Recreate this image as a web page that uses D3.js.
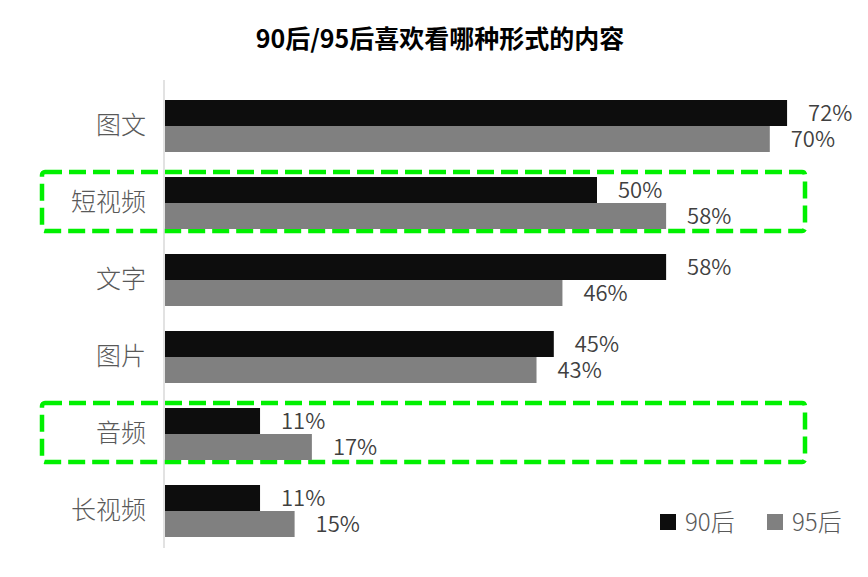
<!DOCTYPE html>
<html>
<head>
<meta charset="utf-8">
<script src="https://cdn.jsdelivr.net/npm/d3@7/dist/d3.min.js"></script>
<style>
  body { margin: 0; background: #fff; }
  svg { display: block; font-family: "Noto Sans CJK SC", "Noto Sans", sans-serif; }
</style>
</head>
<body>
<div id="chart"></div>
<script>
// Data
const categories = ["图文", "短视频", "文字", "图片", "音频", "长视频"];
const series = ["90后", "95后"];
const values90 = [72, 50, 58, 45, 11, 11];
const values95 = [70, 58, 46, 43, 17, 15];
const highlighted = ["短视频", "音频"];
const title = "90后/95后喜欢看哪种形式的内容";

const width = 868, height = 577;
const colors = {"90后": "#0d0d0d", "95后": "#808080"};

const svg = d3.select("#chart").append("svg")
    .attr("width", width)
    .attr("height", height);

// Scales
const x = d3.scaleLinear()
    .domain([0, 100])
    .range([165, 1029]);

const y = d3.scaleBand()
    .domain(categories)
    .range([100, 537])
    .paddingInner(25 / 77)
    .paddingOuter(0);

const ySub = d3.scaleBand()
    .domain(series)
    .range([0, y.bandwidth()]);

// Title
svg.append("text")
    .attr("x", 440)
    .attr("y", 48)
    .attr("text-anchor", "middle")
    .style("font-size", "25px")
    .style("font-weight", "bold")
    .attr("fill", "#000")
    .text(title);

// Highlight boxes behind bars
highlighted.forEach(cat => {
    svg.append("rect")
        .attr("x", 42)
        .attr("y", y(cat) - 5)
        .attr("width", 763)
        .attr("height", y.bandwidth() + 7)
        .attr("rx", 3)
        .attr("fill", "none")
        .attr("stroke", "#00f000")
        .attr("stroke-width", 4.5)
        .attr("stroke-dasharray", "17,7");
});

// Category axis (left)
const yAxis = svg.append("g")
    .attr("transform", `translate(${x(0) - 1},0)`)
    .call(d3.axisLeft(y).tickSize(0).tickPadding(18));
yAxis.select(".domain").remove();
yAxis.selectAll("text")
    .style("font-size", "25px")
    .style("font-weight", "300")
    .style("font-family", "'Noto Sans CJK SC', sans-serif")
    .attr("fill", "#595959");

svg.append("line")
    .attr("x1", x(0) - 1).attr("x2", x(0) - 1)
    .attr("y1", 80).attr("y2", 548)
    .attr("stroke", "#d9d9d9")
    .attr("stroke-width", 1.5);

// Bars
const rows = categories.map((c, i) => ({cat: c, "90后": values90[i], "95后": values95[i]}));

const groups = svg.selectAll(".grp")
    .data(rows)
    .enter()
    .append("g")
    .attr("class", "grp")
    .attr("transform", d => `translate(0,${y(d.cat)})`);

groups.selectAll("rect")
    .data(d => series.map(s => ({s: s, v: d[s]})))
    .enter()
    .append("rect")
    .attr("x", x(0))
    .attr("y", d => ySub(d.s))
    .attr("width", d => x(d.v) - x(0))
    .attr("height", ySub.bandwidth())
    .attr("fill", d => colors[d.s]);

// Value labels (slightly smaller line box so stacked labels don't collide)
groups.selectAll(".lbl")
    .data(d => series.map(s => ({s: s, v: d[s]})))
    .enter()
    .append("text")
    .attr("class", "lbl")
    .attr("x", d => x(d.v) + 21)
    .attr("y", d => ySub(d.s) + ySub.bandwidth() / 2)
    .attr("dy", "0.36em")
    .style("font-size", "22px")
    .style("font-weight", "350")
    .attr("fill", "#404040")
    .text(d => d.v + "%");

// Legend
const legendX = [660, 767];
series.forEach((s, i) => {
    const g = svg.append("g").attr("transform", `translate(${legendX[i]},522)`);
    g.append("rect")
        .attr("x", 0).attr("y", -8)
        .attr("width", 16).attr("height", 16)
        .attr("fill", colors[s]);
    g.append("text")
        .attr("x", 25)
        .attr("dy", "0.36em")
        .style("font-size", "24px")
        .style("font-weight", "300")
        .attr("fill", "#595959")
        .text(s);
});
</script>
</body>
</html>
